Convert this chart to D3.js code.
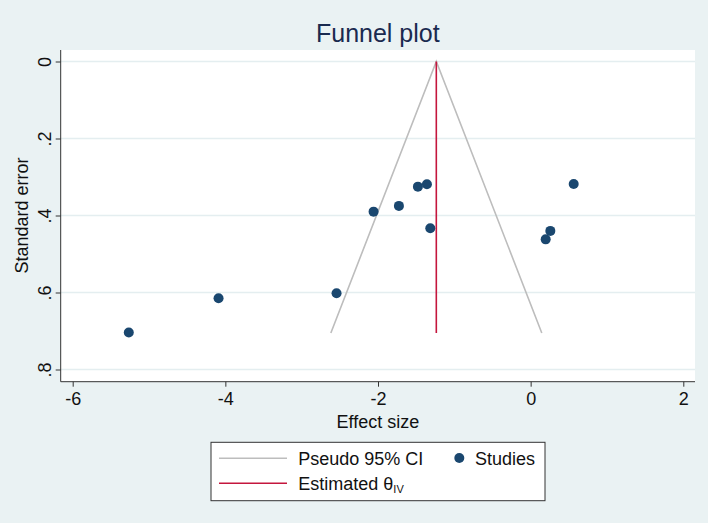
<!DOCTYPE html>
<html><head><meta charset="utf-8">
<script src="https://cdn.jsdelivr.net/npm/d3@7"></script>
<style>body{margin:0;background:#EAF2F3;}svg{display:block;font-family:"Liberation Sans",Arial,sans-serif;}</style>
</head><body>
<svg id="c" width="708" height="523"></svg>
<script>
const effectSize = [-5.265, -4.089, -2.543, -2.058, -1.726, -1.477, -1.359, -1.315, 0.197, 0.258, 0.564];
const standardError = [0.704, 0.615, 0.602, 0.390, 0.375, 0.325, 0.319, 0.433, 0.462, 0.440, 0.318];
const thetaIV = -1.236;
const seMax = 0.705;
const xTicks = [-6, -4, -2, 0, 2];
const yTicks = [0, 0.2, 0.4, 0.6, 0.8];
const yTickLabels = ["0", ".2", ".4", ".6", ".8"];

const svg = d3.select("#c");
svg.append("rect").attr("width",708).attr("height",523).attr("fill","#EAF2F3");
const panel = {l:60.7, r:695, t:50, b:381.7};
const x = d3.scaleLinear().domain([-6,2]).range([72.7,683.3]);
const y = d3.scaleLinear().domain([0,0.8]).range([61.5,369.5]);

svg.append("rect").attr("x",panel.l).attr("y",panel.t).attr("width",panel.r-panel.l).attr("height",panel.b-panel.t).attr("fill","#fff");

// gridlines
svg.append("g").selectAll("line").data(yTicks).join("line")
  .attr("x1",panel.l).attr("x2",panel.r).attr("y1",d=>y(d)).attr("y2",d=>y(d))
  .attr("stroke","#E4EEF0").attr("stroke-width",1.3);

// funnel
const z = 1.96;
const funnel = [[thetaIV - z*seMax, seMax],[thetaIV,0],[thetaIV + z*seMax, seMax]];
svg.append("path").datum(funnel).attr("d", d3.line().x(d=>x(d[0])).y(d=>y(d[1])))
  .attr("fill","none").attr("stroke","#BDBDBD").attr("stroke-width",1.6);
// estimate line
svg.append("line").attr("x1",x(thetaIV)).attr("x2",x(thetaIV)).attr("y1",y(0)).attr("y2",y(seMax))
  .attr("stroke","#C4163D").attr("stroke-width",1.6);

// points
svg.append("g").selectAll("circle").data(effectSize.map((e,i)=>[e,standardError[i]])).join("circle")
  .attr("cx",d=>x(d[0])).attr("cy",d=>y(d[1])).attr("r",5).attr("fill","#1A476F");

// axes
const ax = svg.append("g").attr("transform",`translate(0,${panel.b})`)
  .call(d3.axisBottom(x).tickValues(xTicks).tickFormat(d=>d).tickSize(5).tickPadding(6));
ax.select(".domain").attr("d",`M${panel.l},0H${panel.r}`).attr("stroke","#333");
ax.selectAll(".tick line").attr("stroke","#333");
ax.selectAll(".tick text").attr("font-size",18).attr("fill","#111").attr("font-family","Liberation Sans, Arial");

const ay = svg.append("g").attr("transform",`translate(${panel.l},0)`)
  .call(d3.axisLeft(y).tickValues(yTicks).tickFormat((d,i)=>yTickLabels[i]).tickSize(5).tickPadding(4));
ay.select(".domain").attr("d",`M0,${panel.t}V${panel.b}`).attr("stroke","#333");
ay.selectAll(".tick line").attr("stroke","#333");
ay.selectAll(".tick text").attr("font-size",18).attr("fill","#111").attr("font-family","Liberation Sans, Arial")
  .attr("text-anchor","middle")
  .attr("transform","translate(-10,0) rotate(-90)").attr("x",0).attr("y",0).attr("dy","0");

// titles
svg.append("text").attr("x",(panel.l+panel.r)/2).attr("y",42).attr("text-anchor","middle")
  .attr("font-size",25).attr("fill","#1A2A4F").text("Funnel plot");
svg.append("text").attr("x",(panel.l+panel.r)/2).attr("y",428).attr("text-anchor","middle")
  .attr("font-size",18).attr("fill","#111").text("Effect size");
svg.append("text").attr("transform",`translate(28,${y(0.4)}) rotate(-90)`).attr("text-anchor","middle")
  .attr("font-size",18).attr("fill","#111").text("Standard error");

// legend
const lg = svg.append("g");
lg.append("rect").attr("x",211).attr("y",442.3).attr("width",334).attr("height",58.4).attr("fill","#fff").attr("stroke","#333").attr("stroke-width",1);
lg.append("line").attr("x1",219).attr("x2",287).attr("y1",458.3).attr("y2",458.3).attr("stroke","#BDBDBD").attr("stroke-width",1.6);
lg.append("line").attr("x1",219).attr("x2",287).attr("y1",483.3).attr("y2",483.3).attr("stroke","#C4163D").attr("stroke-width",1.6);
lg.append("text").attr("x",298.3).attr("y",464.5).attr("font-size",18).attr("fill","#111").text("Pseudo 95% CI");
lg.append("circle").attr("cx",459.3).attr("cy",458).attr("r",5).attr("fill","#1A476F");
lg.append("text").attr("x",475).attr("y",464.5).attr("font-size",18).attr("fill","#111").text("Studies");
const est = lg.append("text").attr("x",298.3).attr("y",489.5).attr("font-size",18).attr("fill","#111");
est.append("tspan").text("Estimated θ");
est.append("tspan").attr("font-size",11).attr("dy",3).text("IV");
</script>
</body></html>
